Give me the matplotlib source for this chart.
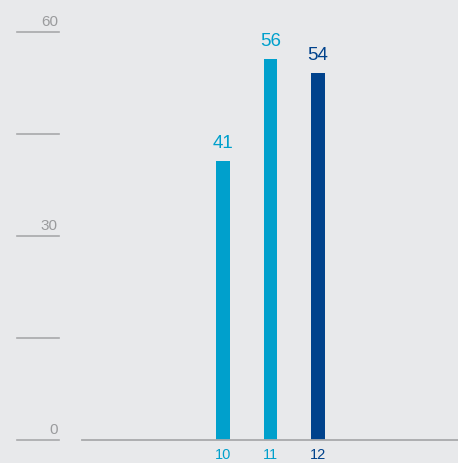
import matplotlib.pyplot as plt

plt.rcParams['font.family'] = ['Liberation Sans', 'DejaVu Sans']

# data
years = ["10", "11", "12"]
values = [41, 56, 54]
colors = ["#00a0cc", "#00a0cc", "#00428c"]
yticks = [0, 15, 30, 45, 60]
ylabels = ["0", "", "30", "", "60"]

bg = "#e8e9eb"
grey = "#a8a9ab"

fig = plt.figure(figsize=(4.58, 4.64), dpi=100, facecolor=bg)
ax = fig.add_axes([82/458, 23/464, 376/458, 408/464], facecolor=bg)

x = [10, 11, 12]
bars = ax.bar(x, values, width=0.28, color=colors)

ax.set_xlim(7.03, 14.95)
ax.set_ylim(0, 60)

for spine in ax.spines.values():
    spine.set_visible(False)
ax.axhline(0, color=grey, linewidth=1.3, clip_on=False)
ax.set_xticks([])
ax.set_yticks([])

# value labels above bars
for bar, v, c in zip(bars, values, colors):
    ax.annotate(str(v), (bar.get_x() + bar.get_width() / 2, v),
                xytext=(0, 7), textcoords="offset points",
                ha="center", va="bottom", fontsize=13.5, color=c)

# category labels under the axis
for xi, lab, c in zip(x, years, colors):
    ax.annotate(lab, (xi, 0), xytext=(0, -5), textcoords="offset points",
                ha="center", va="top", fontsize=10.5, color=c)

# left-side y ticks as short lines with labels above
tr = ax.get_yaxis_transform()
for t, lab in zip(yticks, ylabels):
    ax.plot([-0.173, -0.061], [t, t], color=grey, linewidth=1.2,
            transform=tr, clip_on=False)
    if lab:
        ax.annotate(lab, (-0.064, t), xycoords=tr, xytext=(0, 3),
                    textcoords="offset points", ha="right", va="bottom",
                    fontsize=11, color="#9a9b9d")

fig.savefig("out.png", dpi=100, facecolor=bg)
